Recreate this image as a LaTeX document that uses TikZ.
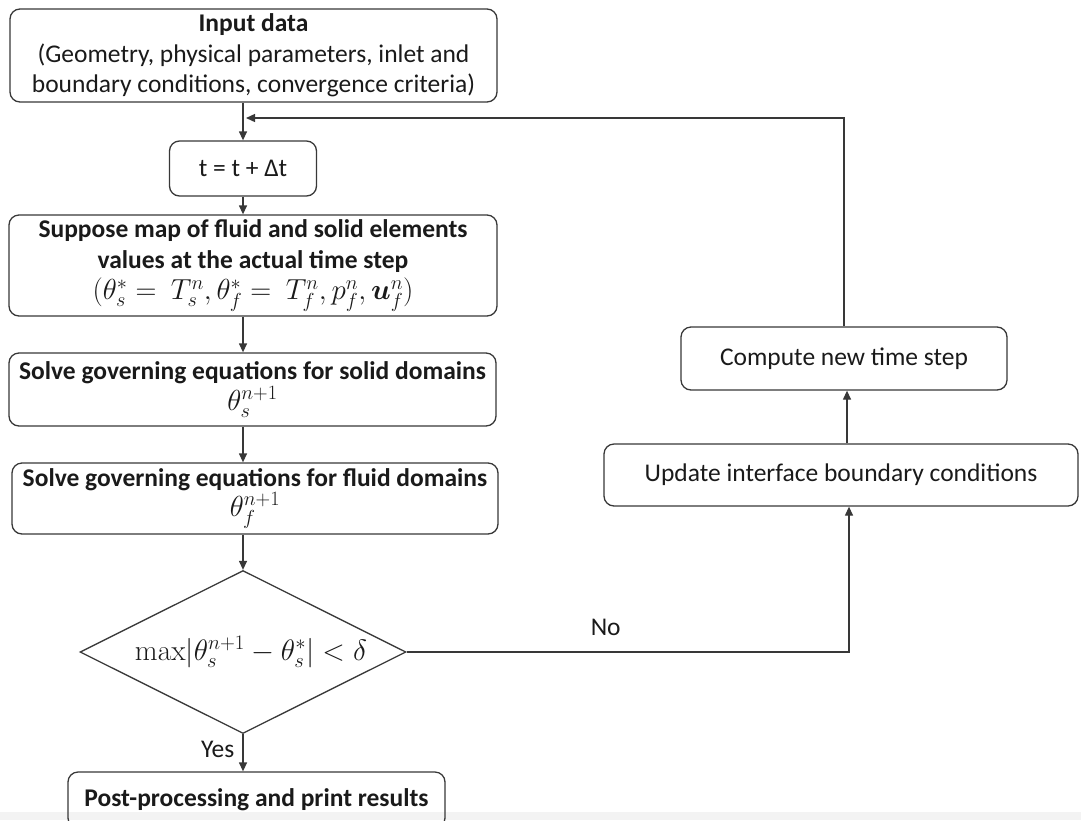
\RequirePackage{fix-cm}
\documentclass[tikz,border=0pt]{standalone}
\usepackage{amsmath,bm}
\usepackage[no-math]{fontspec}
\setmainfont{Carlito}
\usetikzlibrary{arrows.meta,shapes.geometric,calc}
\definecolor{ln}{HTML}{383838}
\definecolor{tx}{HTML}{1A1A1A}
\definecolor{band}{HTML}{F3F3F3}
\newcommand{\mfs}{\fontsize{29}{30}\selectfont}
\begin{document}
\begin{tikzpicture}[x=1pt,y=-1pt,
  box/.style={draw=ln,line width=1.3pt,rounded corners=10pt,inner sep=0pt,align=center,text=tx,font=\fontsize{25.5}{30.5}\selectfont},
  arr/.style={draw=ln,line width=1.3pt,-{Triangle[length=9pt,width=8pt]}},
  lbl/.style={text=tx,font=\fontsize{25.5}{28}\selectfont,inner sep=0pt}]
\useasboundingbox (0,0) rectangle (1081,820);
\fill[band] (0,812) rectangle (1081,820);
% main column
\node[box,minimum width=487pt,minimum height=93pt] (inp) at (253.5,55.5)
  {\textbf{Input data}\\(Geometry, physical parameters, inlet and\\boundary conditions, convergence criteria)};
\node[box,minimum width=147pt,minimum height=55pt] (tstep) at (243,168.5) {t = t + Δt};
\node[box,minimum width=488pt,minimum height=101pt] (sup) at (253,265.5)
  {\textbf{Suppose map of fluid and solid elements}\\\textbf{values at the actual time step}\\[1pt]
   {\mfs$(\theta_s^{*}=\ T_s^{n},\theta_f^{*}=\ T_f^{n},p_f^{n},\bm{u}_f^{n})$}};
\node[box,minimum width=487pt,minimum height=73pt] (solid) at (252.5,389.5)
  {\textbf{Solve governing equations for solid domains}\\[0pt]{\mfs$\theta_s^{n+1}$}};
\node[box,minimum width=486pt,minimum height=71pt] (fluid) at (255,498.5)
  {\textbf{Solve governing equations for fluid domains}\\[0pt]{\mfs$\theta_f^{n+1}$}};
\node[draw=ln,line width=1.3pt,diamond,aspect=2,inner sep=0pt,minimum width=326pt,minimum height=163pt,text=tx] (dec) at (243,652)
  {\hspace*{16pt}\fontsize{29.5}{30}\selectfont$\mathrm{max}|\theta_s^{n+1}-\theta_s^{*}|<\delta$};
\node[box,minimum width=377pt,minimum height=56pt] (post) at (256.5,800)
  {\textbf{Post-processing and print results}};
% right column
\node[box,minimum width=326pt,minimum height=63pt] (comp) at (844,358.5) {Compute new time step};
\node[box,minimum width=474pt,minimum height=62pt] (upd) at (841,475) {Update interface boundary conditions};
\coordinate (join) at (246,118);
\coordinate (updin) at ($(upd.south)+(8,0)$);
\coordinate (compin) at ($(comp.south)+(3,0)$);
% connectors
\draw[arr] (inp.south -| tstep.north) -- (tstep.north);
\draw[arr] (tstep.south) -- (tstep.south |- sup.north);
\draw[arr] (tstep.south |- sup.south) -- (tstep.south |- solid.north);
\draw[arr] (tstep.south |- solid.south) -- (tstep.south |- fluid.north);
\draw[arr] (tstep.south |- fluid.south) -- (dec.north);
\draw[arr] (dec.south) -- node[lbl,left=8pt,pos=0.42] {Yes} (dec.south |- post.north);
\draw[arr] (dec.east) -- node[lbl,above=16pt,pos=0.45] {No} (dec.east -| updin) -- (updin);
\draw[arr] (upd.north -| compin) -- (compin);
\draw[arr] (comp.north) |- (join);
\end{tikzpicture}
\end{document}
